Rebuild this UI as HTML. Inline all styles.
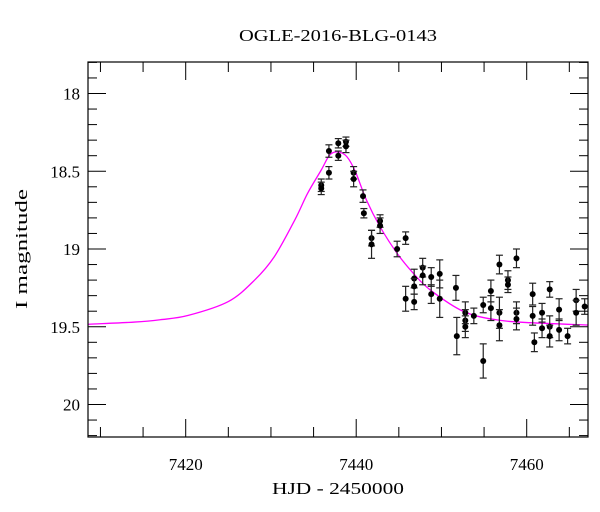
<!DOCTYPE html>
<html><head><meta charset="utf-8"><style>
html,body{margin:0;padding:0;background:#fff;}
svg{display:block;font-family:"Liberation Serif","DejaVu Serif",serif;}
</style></head><body>
<svg id="chart" width="600" height="512" viewBox="0 0 600 512" xmlns="http://www.w3.org/2000/svg">
<rect x="0" y="0" width="600" height="512" fill="#fff"/>
<text x="338" y="41" font-size="17" text-anchor="middle" textLength="198" lengthAdjust="spacingAndGlyphs">OGLE-2016-BLG-0143</text>
<text x="338" y="494" font-size="17" text-anchor="middle" textLength="132" lengthAdjust="spacingAndGlyphs">HJD - 2450000</text>
<text x="0" y="0" font-size="17" text-anchor="middle" textLength="120" lengthAdjust="spacingAndGlyphs" transform="translate(27,249) rotate(-90)">I magnitude</text>
<g id="model"></g>
<g id="pts"></g>
<g id="axes"></g>
</svg>
<script>
const obsT=[7435.9,7435.9,7436.8,7436.8,7437.9,7437.9,7438.8,7438.8,7439.7,7439.7,7440.8,7440.9,7441.8,7441.8,7442.8,7442.8,7444.8,7445.8,7445.8,7446.8,7446.8,7446.8,7447.8,7447.8,7448.8,7448.8,7449.8,7449.8,7451.7,7451.8,7452.8,7452.8,7452.8,7453.8,7454.9,7454.9,7455.8,7455.8,7456.8,7456.8,7456.8,7457.8,7457.8,7458.8,7458.8,7458.8,7460.7,7460.7,7460.9,7461.8,7461.8,7462.7,7462.7,7462.7,7463.8,7463.8,7464.8,7465.8,7465.8,7466.8];
const obsMag=[18.59,18.61,18.37,18.51,18.32,18.40,18.31,18.34,18.51,18.55,18.66,18.77,18.93,18.97,18.82,18.85,19.00,18.93,19.32,19.19,19.24,19.34,19.12,19.17,19.18,19.29,19.16,19.32,19.25,19.56,19.41,19.46,19.50,19.43,19.36,19.72,19.27,19.38,19.10,19.41,19.49,19.20,19.23,19.06,19.41,19.45,19.29,19.43,19.60,19.41,19.51,19.26,19.50,19.56,19.39,19.52,19.56,19.33,19.41,19.37];
const obsErr=[.04,.04,.04,.04,.03,.03,.03,.04,.04,.05,.04,.03,.05,.09,.04,.05,.05,.04,.08,.06,.05,.05,.06,.06,.06,.06,.09,.12,.08,.12,.07,.07,.07,.05,.05,.11,.07,.08,.06,.10,.10,.06,.05,.06,.07,.07,.07,.06,.06,.06,.06,.05,.07,.07,.07,.07,.05,.07,.08,.05];
const modelT=[7408.5,7414.0,7417.0,7420.3,7425.0,7428.1,7430.4,7432.8,7434.3,7435.9,7436.9,7437.9,7438.9,7439.9,7441.2,7442.8,7444.8,7446.7,7448.7,7452.6,7456.5,7460.4,7467.2];
const modelMag=[19.484,19.470,19.455,19.427,19.338,19.199,19.049,18.813,18.642,18.492,18.395,18.376,18.406,18.502,18.685,18.857,19.028,19.156,19.264,19.402,19.456,19.474,19.489];
const xTicks=[7420,7440,7460];
const yTicks=[18,18.5,19,19.5,20];
const yTickLabels=["18","18.5","19","19.5","20"];

const NS="http://www.w3.org/2000/svg";
const L=88,R=588,T=62,B=437;
const X=t=>185.7+(t-7420)*8.525;
const Y=m=>93.5+(m-18)*155.5;
function mk(tag,attrs,parent){const e=document.createElementNS(NS,tag);for(const k in attrs)e.setAttribute(k,attrs[k]);parent.appendChild(e);return e;}

const mg=document.getElementById('model');
const P=modelT.map((t,i)=>[X(t),Y(modelMag[i])]);
let d="M"+P[0][0]+","+P[0][1];
for(let i=0;i<P.length-1;i++){
  const p0=P[Math.max(i-1,0)],p1=P[i],p2=P[i+1],p3=P[Math.min(i+2,P.length-1)];
  const c1=[p1[0]+(p2[0]-p0[0])/6,p1[1]+(p2[1]-p0[1])/6];
  const c2=[p2[0]-(p3[0]-p1[0])/6,p2[1]-(p3[1]-p1[1])/6];
  d+=" C"+c1[0]+","+c1[1]+" "+c2[0]+","+c2[1]+" "+p2[0]+","+p2[1];
}
const mp=mk('path',{d:d,fill:'none',stroke:'#ff00ff','stroke-width':1.3},mg);



const pg=document.getElementById('pts');
obsT.forEach((t,i)=>{
  const x=X(t),y=Y(obsMag[i]),y1=Y(obsMag[i]-obsErr[i]),y2=Y(obsMag[i]+obsErr[i]);
  const g=mk('g',{},pg);
  
  
  mk('line',{x1:x,x2:x,y1:y1,y2:y2,stroke:'#222','stroke-width':1.2},g);
  mk('line',{x1:x-3.5,x2:x+3.5,y1:y1,y2:y1,stroke:'#222','stroke-width':1.2},g);
  mk('line',{x1:x-3.5,x2:x+3.5,y1:y2,y2:y2,stroke:'#222','stroke-width':1.2},g);
  mk('circle',{cx:x,cy:y,r:3,fill:'#000'},g);
});

const ag=document.getElementById('axes');
const fr=mk('rect',{x:L,y:T,width:R-L,height:B-T,fill:'none',stroke:'#000','stroke-width':1.2},ag);


for(let t=7410;t<=7465;t+=5){
  const x=X(t);const major=xTicks.includes(t);const len=major?18:10;
  mk('line',{x1:x,x2:x,y1:B,y2:B-len,stroke:'#000','stroke-width':1},ag);
  mk('line',{x1:x,x2:x,y1:T,y2:T+len,stroke:'#000','stroke-width':1},ag);
}
xTicks.forEach(t=>{
  const tx=mk('text',{x:X(t),y:B+33,'font-size':17,'text-anchor':'middle'},ag);
  
  
  tx.textContent=String(t);
});
for(let k=18;k<=202;k++){
  const m=k/10;const y=Y(m);if(y<T||y>B)continue;
  const major=(k%5===0);const len=major?18:9;
  mk('line',{x1:L,x2:L+len,y1:y,y2:y,stroke:'#000','stroke-width':1},ag);
  mk('line',{x1:R,x2:R-len,y1:y,y2:y,stroke:'#000','stroke-width':1},ag);
}
yTicks.forEach((m,i)=>{
  const tx=mk('text',{x:L-8,y:Y(m)+6,'font-size':17,'text-anchor':'end'},ag);
  
  
  tx.textContent=yTickLabels[i];
});
</script>
</body></html>
